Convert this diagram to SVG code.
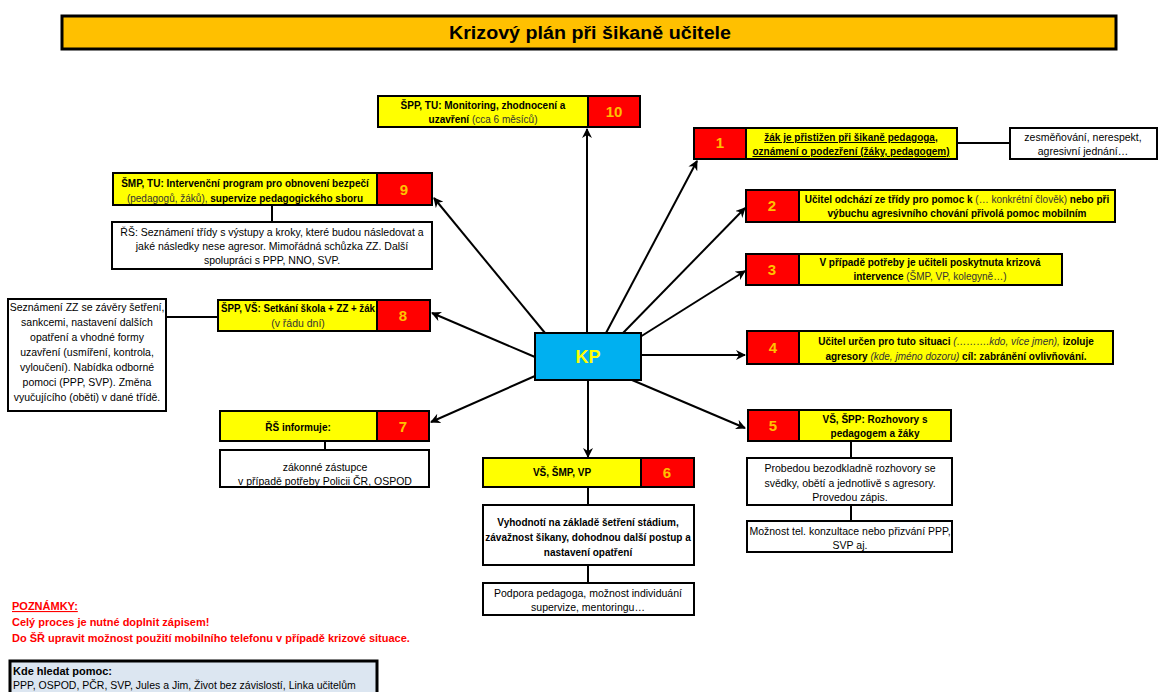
<svg xmlns="http://www.w3.org/2000/svg" width="1159" height="692" viewBox="0 0 1159 692">
<defs>
<style>
text{font-family:"Liberation Sans",Arial,sans-serif;font-size:10.5px;fill:#000}
.c{text-anchor:middle}
.b{font-weight:bold;font-size:10px}
.p{font-weight:normal;fill:#333}
.i{font-style:italic;font-weight:normal;fill:#333}
.num{font-size:15px;font-weight:bold;fill:#FFC000;text-anchor:middle}
.y{fill:#FFFF00;stroke:#000;stroke-width:2}
.r{fill:#FF0000;stroke:#000;stroke-width:2}
.w{fill:#FFFFFF;stroke:#000;stroke-width:2}
.ln{stroke:#000;stroke-width:2;fill:none}
.ar{stroke:#000;stroke-width:2;fill:none;marker-end:url(#ah)}
.note{fill:#FF0000;font-weight:bold;font-size:11px}
</style>
<marker id="ah" viewBox="0 0 10 10" refX="9" refY="5" markerWidth="5" markerHeight="5" orient="auto" markerUnits="strokeWidth">
<path d="M0,0 L10,5 L0,10 L3,5 z" fill="#000"/>
</marker>
</defs>
<rect width="1159" height="692" fill="#FFFFFF"/>

<g id="title">
<rect x="62" y="16" width="1054" height="33" fill="#FFC000" stroke="#000" stroke-width="3"/>
<text x="590" y="39" class="c" style="font-size:18px;font-weight:bold" textLength="282" lengthAdjust="spacingAndGlyphs">Krizový plán při šikaně učitele</text>
</g>

<g id="connectors">
<line class="ar" x1="587" y1="333" x2="587" y2="129"/>
<line class="ar" x1="606" y1="333" x2="697" y2="161"/>
<line class="ar" x1="623" y1="333" x2="745" y2="208"/>
<line class="ar" x1="640" y1="337" x2="745" y2="271"/>
<line class="ar" x1="641" y1="355" x2="745" y2="355"/>
<line class="ar" x1="632" y1="380" x2="745" y2="428"/>
<line class="ar" x1="588" y1="380" x2="588" y2="457"/>
<line class="ar" x1="535" y1="376" x2="431" y2="422"/>
<line class="ar" x1="535" y1="357" x2="432" y2="313"/>
<line class="ar" x1="545" y1="333" x2="434" y2="198"/>
<line class="ln" x1="957" y1="143" x2="1010" y2="143"/>
<line class="ln" x1="166" y1="317" x2="218" y2="317"/>
<line class="ln" x1="272" y1="205" x2="272" y2="222"/>
<line class="ln" x1="325" y1="441" x2="325" y2="450"/>
<line class="ln" x1="588" y1="487" x2="588" y2="505"/>
<line class="ln" x1="588" y1="565" x2="588" y2="583"/>
<line class="ln" x1="851" y1="441" x2="851" y2="458"/>
<line class="ln" x1="851" y1="505" x2="851" y2="521"/>
</g>

<g id="kp">
<rect x="535" y="333" width="106" height="47" fill="#00B0F0" stroke="#000" stroke-width="2"/>
<text x="588" y="363" class="c" style="font-size:18px;font-weight:bold;fill:#FFFF00">KP</text>
</g>

<g id="node10">
<rect class="y" x="378" y="96" width="210" height="31"/>
<rect class="r" x="588" y="96" width="52" height="31"/>
<text x="483" y="109" class="c b">ŠPP, TU: Monitoring, zhodnocení a</text>
<text x="483" y="123" class="c b">uzavření<tspan class="p"> (cca 6 měsíců)</tspan></text>
<text x="614" y="117" class="num">10</text>
</g>

<g id="node1">
<rect class="r" x="694" y="128" width="52" height="31"/>
<rect class="y" x="746" y="128" width="211" height="31"/>
<text x="720" y="148" class="num">1</text>
<text x="851" y="141" class="c b" text-decoration="underline">žák je přistižen při šikaně pedagoga,</text>
<text x="851" y="155" class="c b" text-decoration="underline">oznámení o podezření (žáky, pedagogem)</text>
</g>
<g id="node1a">
<rect class="w" x="1010" y="128" width="147" height="31"/>
<text x="1083" y="141" class="c">zesměňování, nerespekt,</text>
<text x="1083" y="155" class="c">agresivní jednání…</text>
</g>

<g id="node2">
<rect class="r" x="746" y="190" width="53" height="32"/>
<rect class="y" x="799" y="190" width="316" height="32"/>
<text x="772" y="211" class="num">2</text>
<text x="957" y="203" class="c b">Učitel odchází ze třídy pro pomoc k <tspan class="p">(… konkrétní člověk)</tspan> nebo při</text>
<text x="957" y="217" class="c b">výbuchu agresivního chování přivolá pomoc mobilním</text>
</g>

<g id="node3">
<rect class="r" x="746" y="254" width="53" height="31"/>
<rect class="y" x="799" y="254" width="263" height="31"/>
<text x="772" y="275" class="num">3</text>
<text x="930" y="266" class="c b">V případě potřeby je učiteli poskytnuta krizová</text>
<text x="930" y="280" class="c b">intervence <tspan class="p">(ŠMP, VP, kolegyně…)</tspan></text>
</g>

<g id="node4">
<rect class="r" x="747" y="331" width="52" height="33"/>
<rect class="y" x="799" y="331" width="314" height="33"/>
<text x="773" y="353" class="num">4</text>
<text x="956" y="345" class="c b">Učitel určen pro tuto situaci <tspan class="i">(……….kdo, více jmen),</tspan>  izoluje</text>
<text x="956" y="360" class="c b">agresory <tspan class="i">(kde, jméno dozoru)</tspan>  cíl: zabránění ovlivňování.</text>
</g>

<g id="node5">
<rect class="r" x="748" y="410" width="51" height="31"/>
<rect class="y" x="799" y="410" width="152" height="31"/>
<text x="773" y="431" class="num">5</text>
<text x="875" y="423" class="c b">VŠ, ŠPP: Rozhovory s</text>
<text x="875" y="437" class="c b">pedagogem a žáky</text>
</g>
<g id="node5a">
<rect class="w" x="747" y="458" width="205" height="47"/>
<text x="850" y="472" class="c">Probedou bezodkladně rozhovory se</text>
<text x="850" y="487" class="c">svědky, obětí a jednotlivě s agresory.</text>
<text x="850" y="501" class="c">Provedou zápis.</text>
</g>
<g id="node5b">
<rect class="w" x="747" y="521" width="205" height="31"/>
<text x="850" y="535" class="c">Možnost tel. konzultace nebo přizvání PPP,</text>
<text x="850" y="549" class="c">SVP aj.</text>
</g>

<g id="node6">
<rect class="y" x="483" y="458" width="158" height="29"/>
<rect class="r" x="641" y="458" width="53" height="29"/>
<text x="562" y="476" class="c b">VŠ, ŠMP, VP</text>
<text x="667" y="478" class="num">6</text>
</g>
<g id="node6a">
<rect class="w" x="483" y="505" width="211" height="60"/>
<text x="588" y="526" class="c b">Vyhodnotí na základě šetření stádium,</text>
<text x="588" y="541" class="c b">závažnost šikany, dohodnou další postup a</text>
<text x="588" y="556" class="c b">nastavení opatření</text>
</g>
<g id="node6b">
<rect class="w" x="483" y="583" width="211" height="32"/>
<text x="588" y="597" class="c">Podpora pedagoga, možnost individuání</text>
<text x="588" y="611" class="c">supervize, mentoringu…</text>
</g>

<g id="node7">
<rect class="y" x="220" y="411" width="157" height="30"/>
<rect class="r" x="377" y="411" width="52" height="30"/>
<text x="298" y="431" class="c b">ŘŠ informuje:</text>
<text x="403" y="432" class="num">7</text>
</g>
<g id="node7a">
<rect class="w" x="220" y="450" width="209" height="37"/>
<text x="325" y="471" class="c">zákonné zástupce</text>
<text x="325" y="485" class="c">v případě potřeby Policii ČR, OSPOD</text>
</g>

<g id="node8">
<rect class="y" x="218" y="300" width="159" height="31"/>
<rect class="r" x="377" y="300" width="53" height="31"/>
<text x="221" y="312" class="b" textLength="154" lengthAdjust="spacingAndGlyphs">ŠPP, VŠ: Setkání škola + ZZ + žák</text>
<text x="298" y="327" class="c p">(v řádu dní)</text>
<text x="403" y="321" class="num">8</text>
</g>
<g id="node8a">
<rect class="w" x="8" y="299" width="158" height="112"/>
<text x="87" y="311" class="c">Seznámení ZZ se závěry šetření,</text>
<text x="87" y="326" class="c">sankcemi, nastavení dalších</text>
<text x="87" y="341" class="c">opatření a vhodné formy</text>
<text x="87" y="356" class="c">uzavření (usmíření, kontrola,</text>
<text x="87" y="371" class="c">vyloučení). Nabídka odborné</text>
<text x="87" y="386" class="c">pomoci (PPP, SVP). Změna</text>
<text x="87" y="401" class="c">vyučujícího (oběti) v dané třídě.</text>
</g>

<g id="node9">
<rect class="y" x="113" y="173" width="264" height="32"/>
<rect class="r" x="377" y="173" width="55" height="32"/>
<text x="245" y="187" class="c b">ŠMP, TU: Intervenční program pro obnovení bezpečí</text>
<text x="245" y="202" class="c b"><tspan class="p">(pedagogů, žáků),</tspan> supervize pedagogického sboru</text>
<text x="404" y="195" class="num">9</text>
</g>
<g id="node9a">
<rect class="w" x="112" y="222" width="320" height="47"/>
<text x="272" y="236" class="c">ŘŠ: Seznámení třídy s výstupy a kroky, které budou následovat a</text>
<text x="272" y="250" class="c">jaké následky nese agresor. Mimořádná schůzka ZZ. Další</text>
<text x="272" y="264" class="c">spolupráci s PPP, NNO, SVP.</text>
</g>

<g id="notes">
<text x="12" y="610" class="note" text-decoration="underline">POZNÁMKY:</text>
<text x="12" y="626" class="note">Celý proces je nutné doplnit zápisem!</text>
<text x="12" y="642" class="note">Do ŠŘ upravit možnost použití mobilního telefonu v případě krizové situace.</text>
</g>

<g id="help">
<rect x="10" y="661" width="367" height="40" fill="#DCE6F1" stroke="#000" stroke-width="3"/>
<text x="13" y="675" style="font-weight:bold;font-size:11px">Kde hledat pomoc:</text>
<text x="13" y="689">PPP, OSPOD, PČR, SVP, Jules a Jim, Život bez závislostí, Linka učitelům</text>
</g>
</svg>
